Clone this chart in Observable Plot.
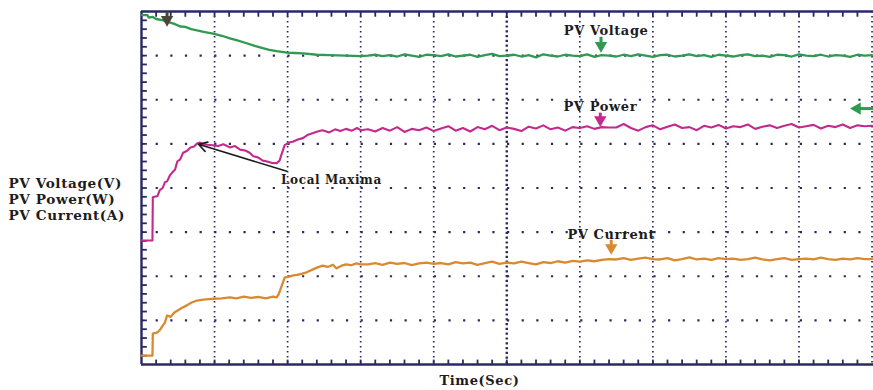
<!DOCTYPE html>
<html>
<head>
<meta charset="utf-8">
<script src="https://cdn.jsdelivr.net/npm/d3@7"></script>
<script src="https://cdn.jsdelivr.net/npm/@observablehq/plot@0.6"></script>
<style>
  html, body { margin: 0; padding: 0; background: #ffffff; }
  #chart svg { display: block; }
</style>
</head>
<body>
<div id="chart"></div>
<script>
// ---- data (time in scope divisions, value in vertical divisions) ----
const voltageHeadT = [0,0.08,0.1,0.15,0.2,0.3,0.35,0.45,0.53,0.6,0.68,0.76,0.85,0.98,1.1,1.21,1.3,1.44,1.55,1.66,1.75,1.85,1.99,2.1,2.21,2.4,2.57,2.8,3.0];
const voltageHeadV = [7.92,7.92,7.86,7.88,7.83,7.8,7.77,7.72,7.66,7.65,7.6,7.57,7.54,7.5,7.45,7.39,7.35,7.28,7.22,7.17,7.13,7.1,7.07,7.06,7.05,7.02,7.01,7.0,6.99];

const powerHeadT = [0,0.15,0.155,0.22,0.25,0.29,0.32,0.35,0.39,0.42,0.46,0.49,0.53,0.57,0.62,0.67,0.72,0.76,0.8,0.83,0.9,0.98,1.05,1.12,1.21,1.28,1.35,1.42,1.48,1.53,1.6,1.66,1.72,1.78,1.85,1.89,1.92,1.96,2.02,2.07,2.14,2.21,2.27,2.34,2.41,2.48,2.57,2.65,2.72,2.8,2.88,2.95,3.0];
const powerHeadV = [2.81,2.81,3.79,3.82,3.95,4.0,4.13,4.15,4.29,4.35,4.42,4.6,4.65,4.8,4.84,4.92,4.94,5.01,5.03,5.0,4.98,4.97,4.95,4.99,4.92,4.95,4.87,4.85,4.8,4.72,4.69,4.62,4.6,4.57,4.56,4.62,4.78,4.97,5.03,5.05,5.1,5.13,5.2,5.24,5.28,5.31,5.26,5.33,5.29,5.34,5.30,5.36,5.31];

const currentHeadT = [0,0.15,0.155,0.22,0.26,0.29,0.32,0.35,0.4,0.45,0.49,0.55,0.62,0.68,0.76,0.85,0.92,1.0,1.1,1.21,1.3,1.4,1.5,1.6,1.7,1.8,1.85,1.88,1.92,1.96,2.02,2.08,2.13,2.2,2.26,2.34,2.41,2.48,2.55,2.62,2.67,2.74,2.8,2.87,2.94,3.0];
const currentHeadV = [0.2,0.2,0.7,0.73,0.8,0.88,0.95,1.11,1.08,1.18,1.22,1.28,1.34,1.4,1.45,1.47,1.48,1.49,1.5,1.52,1.5,1.54,1.51,1.53,1.5,1.54,1.52,1.6,1.79,1.97,1.99,2.02,2.03,2.06,2.09,2.15,2.2,2.24,2.21,2.26,2.18,2.24,2.27,2.25,2.29,2.27];

const tailT = [3.1,3.2,3.3,3.4,3.5,3.6,3.7,3.8,3.9,4.0,4.1,4.2,4.3,4.4,4.5,4.6,4.7,4.8,4.9,5.0,5.1,5.2,5.3,5.4,5.5,5.6,5.7,5.8,5.9,6.0,6.1,6.2,6.3,6.4,6.5,6.6,6.7,6.8,6.9,7.0,7.1,7.2,7.3,7.4,7.5,7.6,7.7,7.8,7.9,8.0,8.1,8.2,8.3,8.4,8.5,8.6,8.7,8.8,8.9,9.0,9.1,9.2,9.3,9.4,9.5,9.6,9.7,9.8,9.9,10.0];
const voltageTailV = [7.00,7.02,6.99,7.01,6.98,7.03,7.00,6.97,7.02,7.01,6.99,7.03,6.98,7.00,7.02,6.97,7.01,7.04,6.99,7.00,7.02,6.98,7.01,6.96,7.03,7.00,6.98,7.02,7.00,6.99,7.03,6.97,7.01,7.00,6.98,7.02,6.99,7.03,7.00,6.97,7.01,7.02,6.98,7.00,7.03,6.99,7.01,6.97,7.02,7.00,6.98,7.01,7.03,6.99,7.00,6.97,7.02,7.01,6.98,7.03,7.00,6.99,7.02,6.98,7.01,7.00,6.97,7.02,7.00,7.01];
const powerTailV = [5.33,5.28,5.36,5.30,5.38,5.27,5.34,5.31,5.37,5.29,5.35,5.40,5.30,5.36,5.28,5.38,5.33,5.41,5.31,5.37,5.34,5.29,5.39,5.35,5.42,5.33,5.37,5.30,5.38,5.36,5.40,5.34,5.38,5.37,5.37,5.45,5.36,5.30,5.38,5.42,5.33,5.39,5.44,5.36,5.38,5.31,5.41,5.37,5.43,5.35,5.40,5.38,5.44,5.34,5.39,5.42,5.36,5.41,5.45,5.37,5.40,5.43,5.35,5.41,5.38,5.44,5.36,5.42,5.40,5.41];
const currentTailV = [2.27,2.30,2.26,2.31,2.28,2.30,2.25,2.29,2.31,2.28,2.30,2.27,2.32,2.29,2.31,2.26,2.30,2.33,2.28,2.31,2.29,2.33,2.30,2.27,2.32,2.30,2.34,2.31,2.35,2.33,2.36,2.34,2.37,2.39,2.38,2.41,2.37,2.40,2.42,2.39,2.38,2.41,2.36,2.39,2.43,2.38,2.40,2.37,2.41,2.39,2.40,2.37,2.39,2.42,2.38,2.36,2.39,2.41,2.37,2.39,2.40,2.38,2.42,2.39,2.37,2.40,2.38,2.41,2.39,2.39];

// tick / grid positions (divisions)
const gridX = [1,2,3,4,6,7,8,9,10];
const centerX = [5];
const gridY = [1,2,3,4,5,6,7];
const minorX = d3.range(1, 50).map(i => i / 5);
const minorY = d3.range(1, 40).map(i => i / 5);

// text
const traceLabels = ["PV Voltage", "PV Power", "PV Current"];
const traceLabelX = [6.36, 6.28, 6.43];
const traceLabelY = [7.57, 5.83, 2.93];
const peakLabel = "Local Maxima";
const yTitleLines = ["PV Voltage(V)", "PV Power(W)", "PV Current(A)"];
const xTitle = "Time(Sec)";

// annotation markers (tip positions)
const markerX   = [0.35, 6.29, 6.28, 6.43];
const markerTip = [7.64, 7.05, 5.37, 2.47];
const markerTop = [7.85, 7.28, 5.56, 2.68];
const markerKey = ["trigger", "voltage", "power", "current"];
const levelTip = {x: 9.69, y: 5.8};
const peakArrow = {x1: 1.99, y1: 4.38, x2: 0.78, y2: 4.99};

// ---- styles ----
const colors = {voltage: "#2f9a50", power: "#c42a8c", current: "#d98a2e", trigger: "#4a463a"};
const navy = "#2a2966";
const ink = "#1c1c1c";

const series = (t, v, name) => t.map((x, i) => ({x, y: v[i], name}));
const voltage = series(voltageHeadT.concat(tailT), voltageHeadV.concat(voltageTailV), "voltage");
const power = series(powerHeadT.concat(tailT), powerHeadV.concat(powerTailV), "power");
const current = series(currentHeadT.concat(tailT), currentHeadV.concat(currentTailV), "current");
const markers = markerX.map((x, i) => ({x, tip: markerTip[i], top: markerTop[i], color: colors[markerKey[i]]}));
const labels = traceLabels.map((text, i) => ({text, x: traceLabelX[i], y: traceLabelY[i]}));

const chart = Plot.plot({
  width: 873,
  height: 390,
  marginLeft: 141,
  marginRight: 0,
  marginTop: 11,
  marginBottom: 26,
  x: {domain: [0, 10.02], axis: null},
  y: {domain: [0, 8], axis: null},
  color: {type: "identity"},
  style: {background: "#ffffff", fontFamily: "DejaVu Serif", letterSpacing: "0.6px"},
  marks: [
    // grid
    Plot.ruleX(gridX, {stroke: navy, strokeWidth: 1.7, strokeDasharray: "1.6,3.4"}),
    Plot.ruleX(centerX, {stroke: navy, strokeWidth: 2.4, strokeDasharray: "2.2,2.6"}),
    Plot.ruleY(gridY, {stroke: navy, strokeWidth: 2.2, strokeDasharray: "2.2,12.44"}),
    // minor ticks on the frame
    Plot.ruleY(minorY, {x1: 0, x2: 0.08, stroke: navy, strokeWidth: 1.8}),
    Plot.ruleX(minorX, {y1: 8, y2: 7.87, stroke: navy, strokeWidth: 1.8}),
    Plot.ruleX(minorX, {y1: 0, y2: 0.1, stroke: navy, strokeWidth: 1.8}),
    // frame
    Plot.ruleX([0], {stroke: navy, strokeWidth: 2.4}),
    Plot.ruleY([0, 8], {stroke: navy, strokeWidth: 2.4}),
    // traces
    Plot.line(voltage, {x: "x", y: "y", stroke: colors.voltage, strokeWidth: 2.3, strokeLinejoin: "round"}),
    Plot.line(power, {x: "x", y: "y", stroke: colors.power, strokeWidth: 2.1, strokeLinejoin: "round"}),
    Plot.line(current, {x: "x", y: "y", stroke: colors.current, strokeWidth: 2.3, strokeLinejoin: "round"}),
    // down markers
    Plot.ruleX(markers, {x: "x", y1: "tip", y2: "top", stroke: "color", strokeWidth: 3, dy: -6}),
    Plot.dot(markers, {x: "x", y: "tip", symbol: "triangle", rotate: 180, r: 4.6, fill: "color", stroke: null, dy: -7.8}),
    // left-pointing level marker
    Plot.ruleY([levelTip], {x1: "x", x2: () => 10.02, y: "y", stroke: colors.voltage, strokeWidth: 3, dx: 6}),
    Plot.dot([levelTip], {x: "x", y: "y", symbol: "triangle", rotate: 270, r: 4.6, fill: colors.voltage, stroke: null, dx: 7.8}),
    // local maxima arrow
    Plot.arrow([peakArrow], {x1: "x1", y1: "y1", x2: "x2", y2: "y2", stroke: ink, strokeWidth: 1.6, headLength: 9, insetEnd: 0}),
    Plot.text([peakLabel], {x: () => 2.6, y: () => 4.17, text: d => d, fontSize: 12, fontWeight: "bold", fill: ink}),
    // trace labels
    Plot.text(labels, {x: "x", y: "y", text: "text", fontSize: 13, fontWeight: "bold", fill: ink}),
    // axis titles
    Plot.text([yTitleLines.join("\n")], {frameAnchor: "left", text: d => d, dx: -133, dy: 11, textAnchor: "start", lineAnchor: "middle", lineHeight: 1.15, fontSize: 13.6, fontWeight: "bold", fill: ink}),
    Plot.text([xTitle], {frameAnchor: "bottom", text: d => d, dx: -28, dy: 16, lineAnchor: "middle", fontSize: 13, fontWeight: "bold", fill: ink})
  ]
});
document.getElementById("chart").append(chart);
</script>
</body>
</html>
